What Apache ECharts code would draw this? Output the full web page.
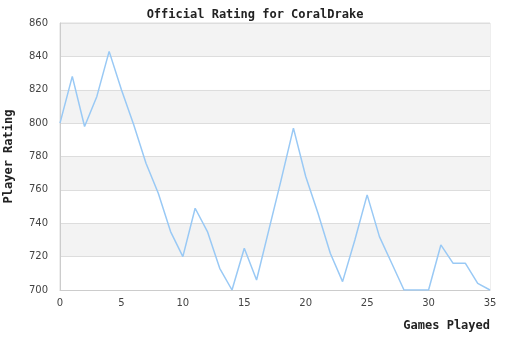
<!DOCTYPE html>
<html><head><meta charset="utf-8">
<script src="https://cdn.jsdelivr.net/npm/echarts@6/dist/echarts.min.js"></script>
<style>html,body{margin:0;padding:0;background:#fff}#c{width:510px;height:340px}</style>
</head><body><div id="c"></div>
<script>
const games = [0,1,2,3,4,5,6,7,8,9,10,11,12,13,14,15,16,17,18,19,20,21,22,23,24,25,26,27,28,29,30,31,32,33,34,35];
const ratings = [800,828,798,816,843,820,799,776,758,735,720,749,735,713,700,725,706,736,766,797,768,746,722,705,730,757,732,716,700,700,700,727,716,716,704,700];
const titleText = 'Official Rating for CoralDrake';
const xName = 'Games Played';
const yName = 'Player Rating';

const chart = echarts.init(document.getElementById('c'), null, {renderer:'canvas'});
const mono = '"DejaVu Sans Mono", monospace';
chart.setOption({
  animation:false,
  backgroundColor:'#fff',
  title:{text:titleText,left:'center',top:4,textStyle:{fontFamily:mono,fontWeight:'bold',fontSize:12,color:'#222'}},
  grid:{left:60,right:20,top:23,bottom:50,show:true,borderColor:'#ddd',borderWidth:1,backgroundColor:'transparent',containLabel:false,outerBoundsMode:'none'},
  xAxis:{type:'value',min:0,max:35,interval:5,
    name:xName,nameLocation:'end',nameGap:0,
    nameTextStyle:{fontFamily:mono,fontWeight:'bold',fontSize:12,color:'#222',align:'right',verticalAlign:'top',padding:[30,0,0,0]},
    axisLine:{show:true,lineStyle:{color:'#ccc'}},axisTick:{show:false},
    axisLabel:{fontFamily:'"DejaVu Sans"',fontSize:10,color:'#444',margin:8},
    splitLine:{show:false}},
  yAxis:{type:'value',min:700,max:860,interval:20,
    name:yName,nameLocation:'middle',nameGap:45,nameRotate:90,
    nameTextStyle:{fontFamily:mono,fontWeight:'bold',fontSize:12,color:'#222'},
    axisLine:{show:true,lineStyle:{color:'#ccc'}},axisTick:{show:false},
    axisLabel:{fontFamily:'"DejaVu Sans"',fontSize:10,color:'#444',margin:12},
    splitLine:{show:true,lineStyle:{color:'#ddd'}},
    splitArea:{show:true,areaStyle:{color:['#ffffff','#f3f3f3']}}},
  series:[{type:'line',data:games.map((g,i)=>[g,ratings[i]]),showSymbol:false,
    lineStyle:{color:'#99c9f5',width:1.5}}]
});
</script></body></html>
